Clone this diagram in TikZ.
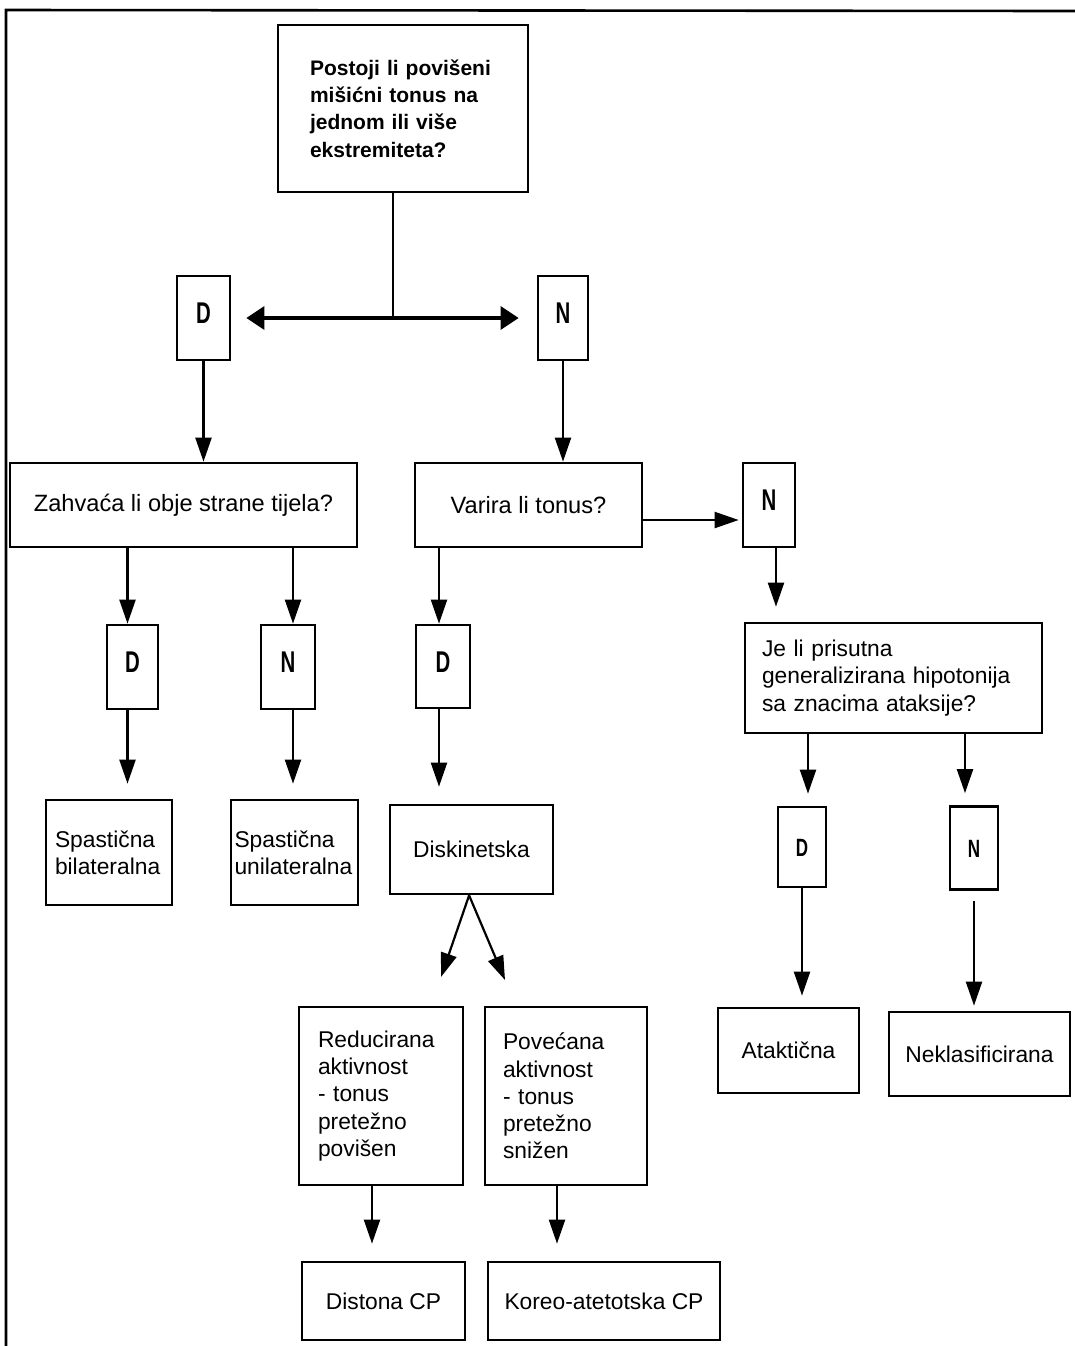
\documentclass[tikz,border=0pt]{standalone}
\usepackage{fontspec}
\setmainfont{Liberation Sans}
\usetikzlibrary{arrows.meta}
\newcommand{\yn}[1]{\scalebox{0.68}[1]{\bfseries #1}}
\begin{document}
\begin{tikzpicture}[x=0.5pt,y=-0.5pt,
  box/.style={draw, line width=1.35pt, rectangle, inner sep=0pt,
    font=\fontsize{11.4}{13.6}\selectfont},
  ynbox/.style={draw, line width=1.35pt, rectangle, inner sep=0pt,
    font=\fontsize{15}{16}\selectfont, text height=10.7pt, text depth=5pt},
  ynlow/.style={font=\fontsize{12.5}{14}\selectfont, text height=9pt, text depth=0pt},
  ln/.style={line width=1.1pt},
  arr/.style={line width=1.1pt, -{Triangle[length=12pt,width=8pt]}},
  dbl/.style={line width=1.6pt, {Triangle[length=9pt,width=11.5pt]}-{Triangle[length=9pt,width=11.5pt]}}
]
\useasboundingbox (0,0) rectangle (1075,1346);
% frame
\draw[line width=1.3pt] (6,1346) -- (6,10) -- (1075,11);

% nodes
\node[box, minimum width=125pt, minimum height=83.5pt, text width=93pt, align=left,
  font=\fontsize{10.5}{13.6}\bfseries] (q1) at (403,108.5)
  {Postoji li povišeni\\mišićni tonus na\\jednom ili više\\ekstremiteta?};
\node[ynbox, minimum width=26.5pt, minimum height=42pt] (d1) at (203.5,318) {\yn{D}};
\node[ynbox, minimum width=25pt, minimum height=42pt] (n1) at (563,318) {\yn{N}};
\coordinate (j) at (393,318);

\node[box, minimum width=173.5pt, minimum height=42pt, font=\fontsize{11.8}{14}\selectfont] (q2) at (183.5,505) {Zahvaća li obje strane tijela?};
\node[box, minimum width=113.5pt, minimum height=42pt, font=\fontsize{11.8}{14}\selectfont] (q3) at (528.5,505) {Varira li tonus?};
\node[ynbox, minimum width=26pt, minimum height=42pt] (n2) at (769,505) {\yn{N}};

\node[box, minimum width=148.5pt, minimum height=55pt, text width=131.5pt, align=left] (q4) at (893.5,678)
  {Je li prisutna\\generalizirana hipotonija\\sa znacima ataksije?};

\node[ynbox, minimum width=25.5pt, minimum height=42pt] (d2) at (132.5,667) {\yn{D}};
\node[ynbox, minimum width=27pt, minimum height=42pt] (n3) at (288,667) {\yn{N}};
\node[ynbox, minimum width=27pt, minimum height=41.5pt] (d3) at (443,666.5) {\yn{D}};

\node[ynbox, ynlow, minimum width=24pt, minimum height=40pt] (d4) at (802,847) {\yn{D}};
\node[ynbox, ynlow, minimum width=24pt, minimum height=41.5pt] (n4) at (974,848) {\yn{N}};

\node[box, minimum width=63pt, minimum height=52.5pt, text width=54pt, align=left] (sb) at (109,852.5)
  {Spastična\\bilateralna};
\node[box, minimum width=63.5pt, minimum height=52.5pt, text width=60pt, align=left] (su) at (294.5,852.5)
  {Spastična\\unilateralna};
\node[box, minimum width=81.5pt, minimum height=44.5pt] (dk) at (471.5,849.5) {Diskinetska};

\node[box, minimum width=70.5pt, minimum height=42.5pt] (at) at (788.5,1050.5) {Ataktična};
\node[box, minimum width=90.5pt, minimum height=42pt] (nk) at (979.5,1054) {Neklasificirana};

\node[box, minimum width=82pt, minimum height=89pt, text width=63pt, align=left] (red) at (381,1096)
  {Reducirana\\aktivnost\\- tonus\\pretežno\\povišen};
\node[box, minimum width=81pt, minimum height=89pt, text width=63pt, align=left] (pov) at (566,1096)
  {Povećana\\aktivnost\\- tonus\\pretežno\\snižen};

\node[box, minimum width=81.5pt, minimum height=39pt] (dist) at (383.5,1301) {Distona CP};
\node[box, minimum width=116pt, minimum height=39pt] (kor) at (604,1301) {Koreo-atetotska CP};

\coordinate (t1) at (441,977);
\coordinate (t2) at (505,980);

% connectors
\draw[ln] (q1.south -| j) -- (j);
\draw[dbl, shorten <=7.5pt, shorten >=9pt] (d1.east) -- (n1.west);
\draw[arr] (d1.south) -- (d1.south |- q2.north);
\draw[arr] (n1.south) -- (n1.south |- q3.north);
\draw[arr, shorten >=1.5pt] ([yshift=-7.5pt]q3.east) -- ([yshift=-7.5pt]n2.west);
\draw[arr, shorten >=7.5pt] ([xshift=3.5pt]n2.south) -- ([xshift=3.5pt]n2.south |- q4.north);
\draw[arr, shorten >=6pt] ([xshift=3pt]q4.south -| d4) -- ([xshift=3pt]d4.north);
\draw[arr, shorten >=6pt] ([xshift=-4.5pt]q4.south -| n4) -- ([xshift=-4.5pt]n4.north);
\draw[arr, shorten >=5.5pt] (d4.south) -- (d4.south |- at.north);
\draw[arr, shorten <=5pt, shorten >=2.5pt] (n4.south) -- (n4.south |- nk.north);

\draw[arr] ([xshift=-2.5pt]q2.south -| d2) -- ([xshift=-2.5pt]d2.north);
\draw[arr] ([xshift=2.5pt]q2.south -| n3) -- ([xshift=2.5pt]n3.north);
\draw[arr] ([xshift=-2pt]q3.south -| d3) -- ([xshift=-2pt]d3.north);
\draw[arr, shorten >=7.5pt] ([xshift=-2.5pt]d2.south) -- ([xshift=-2.5pt]d2.south |- sb.north);
\draw[arr, shorten >=7.5pt] ([xshift=2.5pt]n3.south) -- ([xshift=2.5pt]n3.south |- su.north);
\draw[arr, shorten >=8.5pt] ([xshift=-2pt]d3.south) -- ([xshift=-2pt]d3.south |- dk.north);
\draw[arr] ([xshift=-1.2pt]dk.south) -- (t1);
\draw[arr] ([xshift=-1.2pt]dk.south) -- (t2);
\draw[arr, shorten >=8.5pt] ([xshift=-4.5pt]red.south) -- ([xshift=-4.5pt]red.south |- dist.north);
\draw[arr, shorten >=8.5pt] ([xshift=-4.5pt]pov.south) -- ([xshift=-4.5pt]pov.south |- kor.north);
\end{tikzpicture}
\end{document}
